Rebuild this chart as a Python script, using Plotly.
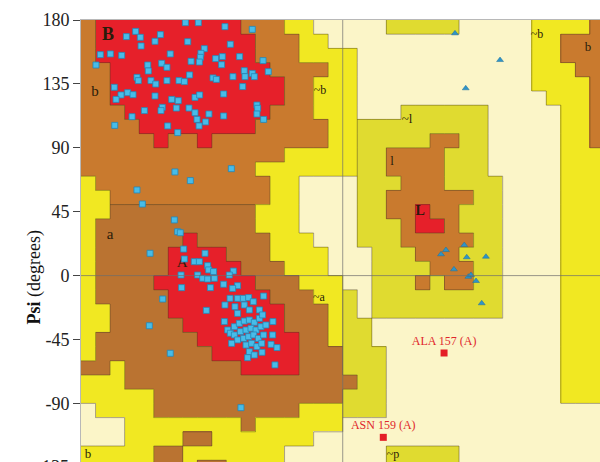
import plotly.graph_objects as go

# ---------------- data ----------------
# Ramachandran region map, 10-degree cells; rows from psi=180 downward, columns from phi=-180
# '.' disallowed, 'y' generously allowed, 'g' generously allowed (l side), 'b' allowed, 'd' allowed (alpha side), 'r' most favoured
region_rows = [
    "b" + "r" * 10 + "bbb" + "yy" + "." * 5 + "g" * 5 + "." * 5 + "yyyy" + "b",
    "b" + "r" * 11 + "bbb" + "yy" + "." * 14 + "yy" + "bbb",
    "b" + "r" * 11 + "bbb" + "yyyy" + "." * 12 + "yy" + "bbb",
    "bb" + "r" * 11 + "bbbb" + "yy" + "." * 12 + "yyy" + "bb",
    "bb" + "r" * 12 + "bb" + "yyy" + "." * 12 + "yyyy" + "b",
    "bb" + "r" * 12 + "bb" + "yyy" + "." * 13 + "yyy" + "b",
    "bbb" + "r" * 10 + "bbb" + "yyy" + "..." + "g" * 6 + "." * 5 + "yy" + "b",
    "bbbb" + "r" * 8 + "b" * 5 + "yy" + "g" * 9 + "." * 5 + "yy" + "b",
    "bbbbb" + "r" + "bb" + "r" + "b" * 8 + "yy" + "g" * 5 + "bb" + "gg" + "." * 5 + "yy" + "b",
    "b" * 14 + "y" * 5 + "gg" + "bbbb" + "ggg" + "." * 5 + "yyy",
    "b" * 12 + "y" * 7 + "gg" + "bbbb" + "ggg" + "." * 5 + "yyy",
    "y" + "b" * 12 + "yy" + "...." + "ggg" + "bbb" + "gggg" + "...." + "yyy",
    "yy" + "b" * 11 + "yy" + "...." + "gg" + "b" * 6 + "gg" + "...." + "yyy",
    "yy" + "d" * 10 + "yyy" + "...." + "gg" + "bb" + "r" + "bb" + "ggg" + "...." + "yyy",
    "y" + "d" * 11 + "yyy" + "...." + "ggg" + "b" + "rr" + "b" + "ggg" + "...." + "yyy",
    "y" + "d" * 6 + "r" + "d" * 5 + "yyy" + "..." + "ggg" + "b" * 5 + "gg" + "...." + "yyy",
    "y" + "d" * 5 + "rrrr" + "ddd" + "yyyy" + "..." + "ggg" + "bbb" + "ggg" + "...." + "yyy",
    "y" + "d" * 5 + "r" * 5 + "ddd" + "yyy" + "..." + "gggg" + "bbb" + "gg" + "...." + "yyy",
    "y" + "dddd" + "r" * 7 + "ddd" + "yyy" + ".." + "ggg" + "b" + "g" + "bb" + "gg" + "...." + "yyy",
    "y" + "d" * 5 + "r" * 7 + "ddd" + "yy" + "g" + "." + "g" * 9 + "...." + "yyy",
    "yy" + "dddd" + "r" * 8 + "ddd" + "y" + "g" + "." + "g" * 9 + "...." + "yyy",
    "yy" + "d" * 5 + "r" * 7 + "ddd" + "y" + "gg" + "." * 13 + "yyy",
    "y" + "d" * 7 + "r" * 7 + "dd" + "y" + "gg" + "." * 13 + "yyy",
    "y" + "d" * 8 + "r" * 6 + "ddd" + "ggg" + "." * 12 + "yyy",
    "dd" + "y" + "d" * 8 + "rrrr" + "ddd" + "ggg" + "." * 12 + "yyy",
    "yyy" + "d" * 16 + "gg" + "." * 12 + "yyy",
    "yyyyy" + "d" * 13 + "ggg" + "." * 12 + "yyy",
    "." + "yyyy" + "d" * 10 + "yyy" + "ggg" + "." * 15,
    "..." + "y" * 8 + "d" + "y" * 6 + "." * 18,
    "..." + "yyyy" + "dd" + "y" * 7 + "." * 20,
    "yyyyy" + "dd" + "y" * 7 + "." * 7 + "ggggg" + "." * 10,
    "yyyyy" + "dd" + "y" + "dd" + "yyyy" + "." * 7 + "ggggg" + "." * 10,
]
region_codes = {".": 0, "y": 1, "g": 2, "b": 3, "d": 4, "r": 5}
region_colors = ["#FBF5C8", "#F1E822", "#E0DB30", "#C97A2E", "#BA7331", "#E6202A"]

# non-Gly, non-Pro residues (phi, psi)
phi_res = [-108.2, -99.3, -81.0, -62.2, -142.4, -125.4, -139.2, -148.8, -106.6, -129.1, -138.7, -77.3,
           -95.2, -166.7, -159.8, -152.0, -118.6, -97.5, -97.9, -70.9, -82.8, -87.4, -169.7, -134.1,
           -124.5, -120.9, -104.3, -98.6, -83.3, -54.8, -51.2, -133.7, -67.7, -62.2, -60.8, -141.5,
           -140.6, -131.9, -128.6, -120.9, -112.6, -108.9, -105.3, -89.2, -86.9, -75.5, -67.2, -157.1,
           -147.9, -152.5, -155.9, -144.2, -129.1, -117.6, -113.1, -101.6, -98.4, -81.9, -68.8, -59.0,
           -58.5, -59.0, -54.4, -124.1, -125.0, -136.4, -114.4, -105.7, -101.6, -92.0, -100.2, -98.8,
           -94.3, -81.9, -144.9, -156.8, -120.4, -113.5,
           -76.6, -115.4, -104.8, -141.5, -137.8, -115.8, -113.5, -111.7,
           -132.5, -109.4, -94.7, -108.9, -102.1, -98.6, -92.9, -92.2, -88.8, -75.2, -78.0, -111.2,
           -99.8, -96.3, -92.9, -88.3, -81.9, -72.3, -75.7, -91.0, -110.8, -123.8, -93.8, -133.0,
           -118.6, -70.0, -46.6, -54.4, -77.5, -72.3, -68.4, -64.7, -61.5, -81.0, -74.1, -67.7,
           -57.3, -64.2, -72.3, -81.4, -48.0,
           -79.1, -77.3, -74.5, -71.1, -67.7, -64.2, -60.8, -57.3, -55.1, -74.5, -70.4, -66.5,
           -63.1, -59.6, -56.2, -52.8, -72.3, -68.1, -64.7, -61.2, -58.0, -54.4, -76.4, -66.5,
           -62.6, -59.0, -55.7, -49.3, -45.2, -64.2, -60.8, -55.5, -65.4, -48.2]
psi_res = [178.1, 178.1, 175.3, 173.4, 172.0, 169.7, 167.8, 168.3, 164.7, 165.0, 161.7, 162.9,
           159.8, 155.6, 156.1, 155.1, 156.1, 156.5, 153.7, 154.2, 154.2, 152.8, 148.3, 148.3,
           149.5, 146.7, 150.9, 150.4, 148.5, 151.4, 143.6, 144.1, 144.3, 142.4, 140.1, 139.6,
           137.3, 137.3, 134.9, 137.3, 137.3, 136.6, 141.3, 139.2, 138.2, 140.1, 140.1, 132.6,
           128.8, 127.2, 124.1, 127.4, 126.5, 124.1, 123.2, 125.5, 127.2, 127.9, 133.1, 120.1,
           117.8, 113.8, 110.0, 118.5, 116.2, 116.2, 118.0, 118.0, 114.7, 113.8, 110.0, 105.4,
           108.2, 112.4, 111.9, 105.8, 105.4, 100.7,
           75.3, 73.0, 66.9, 60.3, 50.4, 39.2, 30.9, 30.2,
           15.7, 18.7, 15.7, 11.7, 9.8, 9.8, 7.0, 4.0, 2.8, 3.2, 0.4, 0.4,
           0.4, -1.9, -2.4, -1.9, -6.1, -7.1, -9.0, -8.5, -8.5, -16.5, -24.5, -35.3,
           -54.7, -93.0, -62.9, -14.4, -16.0, -16.0, -16.0, -15.5, -18.4, -20.7, -21.9, -20.7,
           -24.2, -24.2, -26.6, -32.4, -32.4,
           -38.3, -40.6, -36.0, -33.6, -32.0, -31.3, -32.9, -30.1, -27.7, -41.8, -39.5, -38.3,
           -37.1, -38.3, -36.0, -34.8, -45.3, -44.2, -43.0, -41.8, -44.2, -41.8, -47.7, -48.9,
           -47.7, -50.0, -47.7, -48.4, -50.7, -53.6, -55.9, -54.0, -57.8, -41.8]

# glycine residues
phi_gly = [77.2, 108.2, 84.6, 71.0, 67.6, 83.6, 85.3, 98.5, 76.5, 86.4, 88.2, 91.7, 95.6]
psi_gly = [170.6, 151.8, 131.9, 18.0, 15.0, 21.5, 12.9, 13.3, 4.4, -0.8, 0.4, -3.8, -19.5]

# outliers
phi_out = [69.7, 27.9]
psi_out = [-54.5, -113.9]
out_labels = ["ALA 157 (A)", "ASN 159 (A)"]

# region labels
reg_text = ["<b>B</b>", "b", "a", "A", "<b>L</b>", "l", "~l", "~b", "~b", "b", "~a", "b", "~p"]
reg_phi = [-161.4, -170.4, -160.0, -110.5, 53.2, 33.9, 44.2, -15.6, 133.6, 168.7, -16.3, -175.2, 34.6]
reg_psi = [169.4, 129.3, 28.6, 8.9, 44.8, 80.0, 109.6, 130.0, 169.4, 160.3, -15.8, -126.0, -126.5]
reg_size = [18, 15, 15, 15, 14, 13, 13, 12, 12, 13, 12, 13, 12]

y_ticks = [180, 135, 90, 45, 0, -45, -90]
y_tick_text = ["180", "135", "90", "45", "0", "-45", "-90"]

# ---------------- figure ----------------
z = [[region_codes[ch] for ch in row] for row in region_rows]
n = len(region_colors)
cscale = []
for i, c in enumerate(region_colors):
    cscale.append([i / n, c])
    cscale.append([(i + 1) / n, c])

fig = go.Figure()
fig.add_trace(go.Heatmap(z=z, x0=-175, dx=10, y0=175, dy=-10, colorscale=cscale,
                         zmin=-0.5, zmax=n - 0.5, showscale=False, hoverinfo="skip", zsmooth=False))

# boundary lines between regions (derived from region map)
bx, by = [], []
nr, nc = len(z), len(z[0])
for r in range(nr):
    for c in range(nc):
        top = 180 - 10 * r
        left = -180 + 10 * c
        if c + 1 < nc and z[r][c] != z[r][c + 1]:
            bx += [left + 10, left + 10, None]
            by += [top, top - 10, None]
        if r + 1 < nr and z[r][c] != z[r + 1][c]:
            bx += [left, left + 10, None]
            by += [top - 10, top - 10, None]
fig.add_trace(go.Scatter(x=bx, y=by, mode="lines", line=dict(color="rgba(70,60,30,0.45)", width=1),
                         hoverinfo="skip", showlegend=False))

fig.add_vline(x=0, line=dict(color="rgba(110,110,110,0.7)", width=1))
fig.add_hline(y=0, line=dict(color="rgba(110,110,110,0.7)", width=1))

fig.add_trace(go.Scatter(x=reg_phi, y=reg_psi, mode="text", text=reg_text,
                         textfont=dict(family="Liberation Serif", size=reg_size, color="#2a1c0a"),
                         hoverinfo="skip", showlegend=False))

fig.add_trace(go.Scatter(x=phi_res, y=psi_res, mode="markers",
                         marker=dict(symbol="square", size=6, color="#48BCE8",
                                     line=dict(color="#2386B8", width=0.8)),
                         showlegend=False))
fig.add_trace(go.Scatter(x=phi_gly, y=psi_gly, mode="markers",
                         marker=dict(symbol="triangle-up", size=6, color="#2E94C8",
                                     line=dict(color="#1f6f9a", width=0.5)),
                         showlegend=False))
fig.add_trace(go.Scatter(x=phi_out, y=psi_out, mode="markers+text", text=out_labels,
                         textposition="top center",
                         textfont=dict(family="Liberation Serif", size=12, color="#E0262B"),
                         marker=dict(symbol="square", size=7, color="#E41E26"),
                         showlegend=False))

fig.add_annotation(text="<b>Psi</b> (degrees)", xref="paper", yref="paper", x=-0.1137, y=0.4186,
                   textangle=-90, showarrow=False,
                   font=dict(family="Liberation Serif", size=18, color="#111"))
# partly visible lowest tick label, as in the cropped original
fig.add_annotation(text="-135", xref="paper", yref="paper", x=-0.019, y=-0.0113,
                   xanchor="right", yanchor="middle", showarrow=False,
                   font=dict(family="Liberation Serif", size=18, color="#222"))

fig.update_layout(
    width=600, height=462,
    margin=dict(l=81, r=0, t=20, b=0, autoexpand=False),
    paper_bgcolor="white", plot_bgcolor="#FBF5C8",
    xaxis=dict(range=[-180, -180 + 519 / 1.454], showgrid=False, zeroline=False,
               showticklabels=False, ticks="", showline=True, mirror=True,
               linecolor="#b8b8b8", linewidth=1, automargin=False),
    yaxis=dict(range=[180 - 442 / 1.42, 180], showgrid=False, zeroline=False,
               tickmode="array", tickvals=y_ticks, ticktext=y_tick_text,
               ticks="outside", ticklen=7, automargin=False,
               tickcolor="#444", showline=True, mirror=True, linecolor="#b8b8b8", linewidth=1,
               tickfont=dict(family="Liberation Serif", size=18, color="#222")),
    showlegend=False,
)

fig.write_html("out.html", config={"displayModeBar": False, "staticPlot": True},
               post_script="document.body.style.margin='0';document.body.style.overflow='hidden';")
